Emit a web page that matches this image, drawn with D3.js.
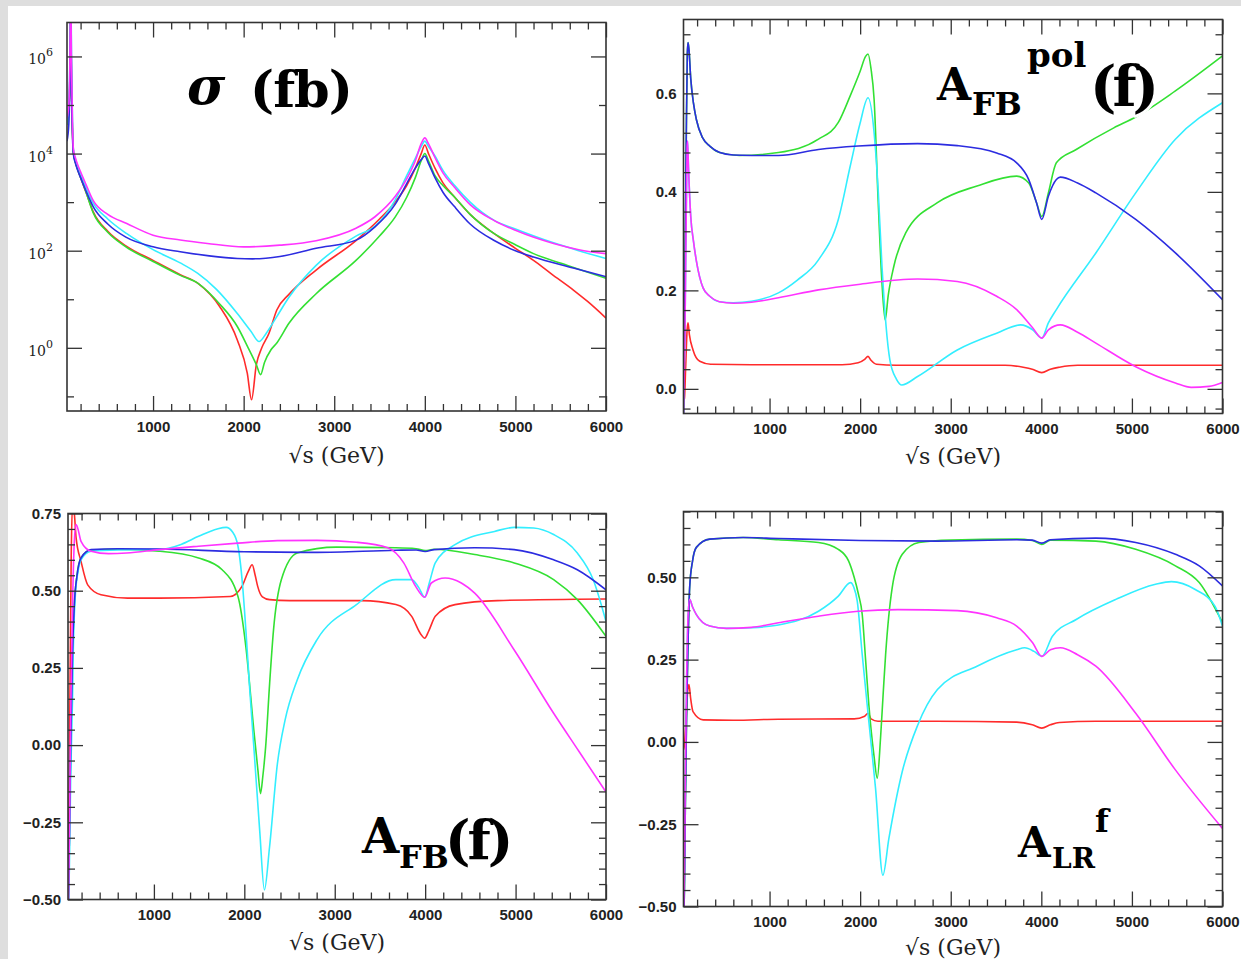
<!DOCTYPE html>
<html>
<head>
<meta charset="utf-8">
<script src="https://cdn.jsdelivr.net/npm/d3@7"></script>
<style>
html, body { margin: 0; padding: 0; background: #dedede; }
svg { display: block; }
.tick text { font-family: "Liberation Sans", Arial, sans-serif; font-weight: bold; font-size: 15px; fill: #222; }
.tick line { stroke: #333; stroke-width: 1.3; }
.frame { fill: none; stroke: #333; stroke-width: 1.6; }
.xlabel { font-family: "DejaVu Serif", serif; font-size: 22px; fill: #222; }
.ylog { font-family: "DejaVu Serif", serif; font-size: 14px; fill: #222; }
.title { font-family: "DejaVu Serif", serif; font-weight: bold; fill: #000;
         stroke: #fff; stroke-width: 6; paint-order: stroke; stroke-linejoin: round; }
.curve { fill: none; stroke-width: 1.6; }
</style>
</head>
<body>
<svg id="chart" width="1241" height="959"></svg>
<script>
/*    ========    DATA    =========    */

var X_DOMAIN = [50, 6000];          // sqrt(s) in GeV
var X_MAJOR = [1000, 2000, 3000, 4000, 5000, 6000];

// sigma (fb), log axis
var sigRed = [[50,4.0e4],[70,7.9e4],[82,4.0e5],[88,3.2e6],[91,1.6e7],[94,4.0e6],[100,2.5e5],[110,3.2e4],[120,1.1e4],[140,7.0e3],[160,5.2e3],[200,3.2e3],[260,1.6e3],[340,630],[500,250],[700,126],[1000,63],[1300,32],[1500,21],[1735,7.1],[1930,1.45],[2040,0.3],[2087,0.085],[2140,0.45],[2200,1.0],[2280,2.0],[2366,6.0],[2500,12.6],[2800,40],[3240,162],[3500,450],[3672,1.0e3],[3800,2.2e3],[3895,5.0e3],[3960,1.0e4],[4000,1.5e4],[4040,1.0e4],[4112,5.0e3],[4200,2.5e3],[4330,1.26e3],[4500,560],[4766,224],[5000,112],[5200,63],[5400,33],[5640,15.5],[5800,8.9],[6000,4.1]];
var sigGreen = [[50,4.0e4],[70,7.9e4],[82,4.0e5],[88,3.2e6],[91,1.6e7],[94,4.0e6],[100,2.5e5],[110,3.2e4],[120,1.1e4],[140,7.0e3],[160,5.2e3],[200,3.2e3],[260,1.6e3],[340,600],[500,240],[700,120],[1000,60],[1300,31],[1500,21],[1735,8.0],[1930,2.75],[2050,1.0],[2140,0.45],[2187,0.28],[2230,0.5],[2300,0.9],[2366,1.26],[2500,3.2],[2800,13],[3240,63],[3500,200],[3672,490],[3800,1.26e3],[3895,3.2e3],[3960,7.1e3],[4000,1.0e4],[4040,7.1e3],[4112,3.5e3],[4200,2.2e3],[4330,1.26e3],[4500,560],[4766,224],[5000,132],[5200,87],[5600,48],[6000,27]];
var sigCyan = [[50,4.0e4],[70,1.0e5],[82,1.0e6],[88,1.6e7],[91,6.3e7],[94,1.6e7],[100,1.0e6],[110,6.3e4],[120,1.26e4],[140,8.0e3],[160,6.0e3],[200,3.8e3],[260,2.0e3],[340,950],[500,450],[710,224],[1000,105],[1300,56],[1494,34],[1700,16],[1930,5.1],[2080,2.2],[2170,1.35],[2250,2.0],[2366,4.4],[2500,11],[2800,50],[3240,200],[3450,320],[3672,1.1e3],[3800,3.5e3],[3895,8.0e3],[3960,1.4e4],[4000,1.8e4],[4040,1.4e4],[4112,8.9e3],[4200,4.5e3],[4330,2.2e3],[4500,1.0e3],[4766,420],[5000,280],[5421,145],[5700,100],[6000,69]];
var sigBlue = [[50,1.8e4],[70,4.0e4],[82,3.2e5],[88,2.5e6],[91,1.0e7],[94,3.2e6],[100,2.0e5],[110,2.5e4],[120,1.0e4],[140,6.6e3],[160,5.0e3],[200,3.2e3],[260,1.7e3],[340,800],[500,355],[700,190],[1000,120],[1300,95],[1600,79],[1930,69],[2100,68],[2400,76],[2800,112],[3240,165],[3450,310],[3672,900],[3800,2.4e3],[3895,5.0e3],[3960,7.5e3],[4000,8.9e3],[4040,6.3e3],[4112,3.2e3],[4200,1.6e3],[4330,800],[4500,355],[4766,162],[5000,100],[5200,74],[5640,44],[6000,29]];
var sigMagenta = [[50,5.4e4],[70,1.0e5],[82,8.0e5],[88,1.0e7],[91,4.0e7],[94,1.0e7],[100,6.3e5],[110,5.0e4],[120,1.26e4],[140,8.5e3],[160,6.5e3],[200,4.2e3],[260,2.3e3],[340,1.07e3],[500,560],[710,363],[1000,209],[1300,166],[1600,141],[2000,120],[2400,130],[2800,160],[3240,290],[3450,500],[3672,1.3e3],[3800,3.0e3],[3895,7.1e3],[3960,1.6e4],[4000,2.1e4],[4040,1.6e4],[4112,8.3e3],[4200,4.0e3],[4330,2.0e3],[4500,890],[4766,417],[5000,263],[5421,141],[5700,105],[6000,87]];

// A_FB^pol(f)
var polRed = [[50,-0.022],[60,-0.02],[75,0.05],[90,0.12],[100,0.134],[115,0.11],[155,0.079],[229,0.056],[350,0.05],[800,0.049],[1800,0.049],[1978,0.053],[2050,0.06],[2087,0.066],[2120,0.058],[2180,0.05],[2400,0.048],[3600,0.048],[3800,0.044],[3900,0.04],[4005,0.033],[4100,0.04],[4200,0.044],[4400,0.048],[6000,0.048]];
var polGreen = [[50,-0.05],[65,0.2],[80,0.5],[92,0.68],[100,0.703],[110,0.69],[130,0.63],[160,0.58],[192,0.547],[260,0.51],[340,0.493],[450,0.48],[665,0.474],[1098,0.48],[1540,0.507],[1759,0.541],[1890,0.595],[2000,0.645],[2060,0.675],[2087,0.68],[2120,0.65],[2154,0.588],[2198,0.385],[2241,0.215],[2276,0.14],[2310,0.19],[2372,0.249],[2503,0.317],[2853,0.378],[3290,0.412],[3728,0.432],[3861,0.418],[3947,0.378],[4005,0.35],[4078,0.398],[4166,0.459],[4385,0.486],[4800,0.53],[5042,0.552],[5480,0.605],[6000,0.676]];
var polCyan = [[50,-0.05],[65,0.1],[80,0.35],[90,0.49],[95,0.503],[105,0.45],[130,0.35],[160,0.3],[192,0.26],[266,0.205],[340,0.188],[446,0.177],[600,0.175],[800,0.178],[1098,0.195],[1300,0.22],[1540,0.262],[1759,0.344],[1890,0.452],[2000,0.54],[2087,0.591],[2154,0.52],[2200,0.4],[2241,0.249],[2328,0.059],[2400,0.02],[2460,0.008],[2634,0.025],[3072,0.079],[3507,0.113],[3772,0.13],[3904,0.12],[4005,0.103],[4078,0.134],[4166,0.161],[4602,0.276],[5042,0.398],[5480,0.507],[6000,0.581]];
var polBlue = [[50,-0.05],[65,0.2],[80,0.5],[92,0.68],[100,0.703],[110,0.69],[130,0.63],[160,0.58],[192,0.547],[260,0.51],[340,0.493],[450,0.48],[600,0.475],[800,0.474],[1098,0.474],[1540,0.486],[1978,0.493],[2634,0.498],[3072,0.494],[3507,0.479],[3728,0.459],[3861,0.425],[3947,0.378],[4005,0.344],[4078,0.391],[4166,0.425],[4210,0.43],[4400,0.418],[4602,0.398],[5042,0.344],[5480,0.276],[6000,0.181]];
var polMagenta = [[50,-0.05],[65,0.1],[80,0.35],[90,0.49],[95,0.503],[105,0.45],[130,0.35],[160,0.3],[192,0.26],[266,0.205],[340,0.188],[446,0.177],[600,0.174],[800,0.176],[1098,0.185],[1540,0.201],[1978,0.212],[2634,0.223],[3072,0.218],[3507,0.188],[3728,0.161],[3904,0.124],[4005,0.103],[4078,0.12],[4210,0.13],[4400,0.115],[4602,0.093],[5042,0.045],[5480,0.012],[5655,0.003],[5850,0.005],[6000,0.013]];

// A_FB(f)
var afbRed = [[50,-0.22],[58,-0.33],[70,0.1],[85,0.6],[100,0.78],[117,0.76],[140,0.67],[194,0.595],[268,0.519],[415,0.487],[710,0.476],[1058,0.476],[1843,0.481],[1974,0.514],[2040,0.56],[2087,0.584],[2120,0.55],[2148,0.514],[2200,0.48],[2279,0.471],[2500,0.468],[3300,0.468],[3676,0.455],[3851,0.417],[3950,0.36],[3995,0.346],[4040,0.37],[4112,0.417],[4330,0.455],[4800,0.468],[6000,0.473]];
var afbGreen = [[50,-0.6],[65,-0.3],[80,0.0],[100,0.3],[120,0.455],[150,0.55],[194,0.606],[305,0.632],[600,0.634],[1058,0.628],[1494,0.606],[1755,0.568],[1930,0.481],[2017,0.319],[2105,0.049],[2150,-0.08],[2179,-0.157],[2205,-0.1],[2236,-0.005],[2280,0.2],[2323,0.373],[2410,0.536],[2585,0.622],[3020,0.641],[3676,0.639],[3900,0.636],[4000,0.63],[4100,0.634],[4548,0.617],[4985,0.59],[5421,0.536],[5683,0.471],[6000,0.352]];
var afbCyan = [[50,-0.6],[65,-0.4],[80,-0.1],[100,0.15],[108,0.3],[130,0.48],[160,0.56],[194,0.6],[305,0.628],[600,0.632],[1058,0.633],[1300,0.65],[1494,0.676],[1700,0.7],[1799,0.705],[1870,0.69],[1930,0.644],[1980,0.52],[2017,0.373],[2060,0.18],[2105,-0.005],[2170,-0.276],[2222,-0.469],[2279,-0.33],[2366,-0.06],[2450,0.08],[2585,0.211],[2803,0.341],[3240,0.455],[3676,0.536],[3851,0.536],[3930,0.51],[3995,0.479],[4050,0.53],[4112,0.59],[4330,0.649],[4767,0.692],[4985,0.705],[5200,0.703],[5421,0.682],[5683,0.622],[5858,0.536],[6000,0.4]];
var afbBlue = [[50,-0.6],[65,-0.3],[80,0.0],[100,0.3],[120,0.455],[150,0.55],[194,0.606],[305,0.633],[600,0.636],[1058,0.635],[2000,0.626],[2803,0.624],[3676,0.631],[3900,0.632],[4000,0.627],[4100,0.633],[4548,0.639],[4985,0.633],[5421,0.60],[5683,0.568],[6000,0.503]];
var afbMagenta = [[50,-0.6],[65,-0.3],[80,0.1],[100,0.45],[120,0.66],[139,0.714],[160,0.70],[194,0.66],[305,0.628],[500,0.62],[700,0.622],[1058,0.633],[1494,0.644],[1930,0.654],[2366,0.662],[2803,0.663],[3240,0.657],[3588,0.639],[3763,0.59],[3895,0.514],[3995,0.479],[4068,0.525],[4221,0.541],[4400,0.525],[4548,0.492],[4985,0.308],[5421,0.103],[5700,-0.02],[6000,-0.152]];

// A_LR^f
var alrRed = [[50,-0.024],[60,-0.01],[75,0.05],[95,0.15],[110,0.174],[130,0.13],[155,0.092],[266,0.067],[600,0.066],[1098,0.069],[1934,0.07],[2050,0.078],[2087,0.087],[2120,0.07],[2197,0.063],[2849,0.063],[3728,0.06],[3900,0.052],[4005,0.042],[4100,0.052],[4200,0.059],[4600,0.063],[6000,0.063]];
var alrGreen = [[50,-0.55],[60,-0.45],[70,-0.2],[85,0.1],[100,0.3],[118,0.469],[150,0.55],[192,0.591],[340,0.616],[708,0.621],[1098,0.614],[1540,0.606],[1759,0.585],[1872,0.55],[1934,0.50],[1980,0.45],[2023,0.387],[2060,0.25],[2096,0.113],[2152,-0.04],[2189,-0.11],[2225,0.011],[2255,0.15],[2281,0.265],[2354,0.469],[2465,0.57],[2649,0.606],[3000,0.613],[3728,0.616],[3900,0.612],[4005,0.6],[4100,0.613],[4602,0.61],[5042,0.585],[5480,0.535],[5743,0.484],[6000,0.362]];
var alrCyan = [[50,-0.55],[60,-0.4],[70,-0.1],[85,0.2],[100,0.38],[118,0.433],[150,0.41],[192,0.387],[340,0.352],[524,0.345],[800,0.347],[1098,0.355],[1540,0.397],[1759,0.443],[1894,0.484],[1930,0.47],[1968,0.428],[2023,0.265],[2096,0.062],[2170,-0.141],[2251,-0.405],[2317,-0.294],[2465,-0.09],[2634,0.05],[2853,0.159],[3290,0.23],[3728,0.28],[3816,0.286],[3920,0.275],[4005,0.26],[4123,0.321],[4385,0.372],[4823,0.433],[5261,0.479],[5436,0.487],[5699,0.463],[5918,0.412],[6000,0.352]];
var alrBlue = [[50,-0.55],[60,-0.45],[70,-0.2],[85,0.1],[100,0.3],[118,0.469],[150,0.55],[192,0.591],[340,0.616],[708,0.621],[1098,0.618],[2000,0.612],[2849,0.61],[3728,0.614],[3900,0.613],[4005,0.604],[4100,0.614],[4602,0.619],[5042,0.606],[5480,0.57],[5743,0.535],[6000,0.474]];
var alrMagenta = [[50,-0.55],[60,-0.4],[70,-0.1],[85,0.2],[100,0.38],[118,0.433],[150,0.41],[192,0.387],[340,0.352],[524,0.345],[800,0.348],[1098,0.362],[1540,0.382],[1978,0.397],[2416,0.402],[3072,0.399],[3507,0.377],[3728,0.352],[3904,0.301],[4005,0.26],[4100,0.28],[4210,0.286],[4400,0.265],[4602,0.23],[5042,0.087],[5480,-0.085],[6000,-0.263]];

/*    ========    SETTINGS    =========    */

var svg = d3.select('#chart');
var COLORS = { red: '#ff2b2b', green: '#33e033', cyan: '#33eeff', blue: '#2c2ce0', magenta: '#ff33ff' };
var ORDER = ['red', 'green', 'cyan', 'blue', 'magenta'];
var MAJOR_LEN = 15, MINOR_LEN = 7;

var X_MINOR = d3.range(1, 30).map(function(i) { return i * 200; })
    .filter(function(v) { return v % 1000 !== 0; });

function linTicks(lo, hi, step, every) {
    // integer multiples of step between lo and hi; split into major / minor
    var out = { major: [], minor: [] };
    for (var i = Math.ceil(lo / step - 1e-9); i * step <= hi + 1e-9; i++) {
        var v = +(i * step).toFixed(4);
        if (i % every === 0) out.major.push(v); else out.minor.push(v);
    }
    return out;
}

var panels = [
    { id: 'sig', left: 67, right: 606, top: 22.5, bottom: 411,
      y: d3.scaleLog().domain([0.05, 5e6]),
      yMajor: [1, 100, 1e4, 1e6], yMinor: [0.1, 10, 1e3, 1e5], log: true,
      series: { red: sigRed, green: sigGreen, cyan: sigCyan, blue: sigBlue, magenta: sigMagenta },
      xPad: 10, xTitleY: 463 },
    { id: 'pol', left: 683.5, right: 1222.5, top: 19.5, bottom: 413.5,
      y: d3.scaleLinear().domain([-0.05, 0.75]),
      ticks: linTicks(-0.05, 0.75, 0.04, 5), fmt: d3.format('.1f'),
      series: { red: polRed, green: polGreen, cyan: polCyan, blue: polBlue, magenta: polMagenta },
      xPad: 10, xTitleY: 464 },
    { id: 'afb', left: 68, right: 606, top: 513.5, bottom: 899.5,
      y: d3.scaleLinear().domain([-0.5, 0.75]),
      ticks: linTicks(-0.5, 0.75, 0.05, 5), fmt: d3.format('.2f'),
      series: { red: afbRed, green: afbGreen, cyan: afbCyan, blue: afbBlue, magenta: afbMagenta },
      xPad: 10, xTitleY: 950 },
    { id: 'alr', left: 683.5, right: 1222.5, top: 511.5, bottom: 906.5,
      y: d3.scaleLinear().domain([-0.5, 0.7]),
      ticks: linTicks(-0.5, 0.7, 0.05, 5), fmt: d3.format('.2f'),
      series: { red: alrRed, green: alrGreen, cyan: alrCyan, blue: alrBlue, magenta: alrMagenta },
      xPad: 10, xTitleY: 955 }
];

/*    ========    FUNCTIONS    =========    */

function addAxis(g, axis, transform) {
    g.append('g')
        .attr('transform', transform)
        .call(axis)
        .call(function(s) { s.select('.domain').remove(); });
}

function drawPanel(p) {
    var g = svg.append('g').attr('id', p.id);
    var x = d3.scaleLinear().domain(X_DOMAIN).range([p.left, p.right]);
    var y = p.y.range([p.bottom, p.top]);
    var w = p.right - p.left, h = p.bottom - p.top;

    var yMajor = p.log ? p.yMajor : p.ticks.major;
    var yMinor = p.log ? p.yMinor : p.ticks.minor;

    g.append('clipPath').attr('id', 'clip-' + p.id)
        .append('rect')
        .attr('x', p.left).attr('y', p.top)
        .attr('width', w).attr('height', h);

    var line = d3.line()
        .x(function(d) { return x(d[0]); })
        .y(function(d) { return y(d[1]); })
        .curve(d3.curveMonotoneX);

    var curves = g.append('g').attr('clip-path', 'url(#clip-' + p.id + ')');
    ORDER.forEach(function(c) {
        curves.append('path')
            .datum(p.series[c])
            .attr('class', 'curve')
            .attr('stroke', COLORS[c])
            .attr('d', line);
    });

    // ticks on all four sides, pointing inward
    addAxis(g, d3.axisBottom(x).tickValues(X_MINOR).tickSize(-MINOR_LEN).tickFormat(''),
        'translate(0,' + p.bottom + ')');
    addAxis(g, d3.axisBottom(x).tickValues(X_MAJOR).tickSize(-MAJOR_LEN)
        .tickPadding(p.xPad).tickFormat(d3.format('d')),
        'translate(0,' + p.bottom + ')');
    addAxis(g, d3.axisTop(x).tickValues(X_MINOR).tickSize(-MINOR_LEN).tickFormat(''),
        'translate(0,' + p.top + ')');
    addAxis(g, d3.axisTop(x).tickValues(X_MAJOR).tickSize(-MAJOR_LEN).tickFormat(''),
        'translate(0,' + p.top + ')');

    addAxis(g, d3.axisLeft(y).tickValues(yMinor).tickSize(-MINOR_LEN).tickFormat(''),
        'translate(' + p.left + ',0)');
    addAxis(g, d3.axisLeft(y).tickValues(yMajor).tickSize(-MAJOR_LEN).tickPadding(7)
        .tickFormat(p.log ? '' : p.fmt),
        'translate(' + p.left + ',0)');
    addAxis(g, d3.axisRight(y).tickValues(yMinor).tickSize(-MINOR_LEN).tickFormat(''),
        'translate(' + p.right + ',0)');
    addAxis(g, d3.axisRight(y).tickValues(yMajor).tickSize(-MAJOR_LEN).tickFormat(''),
        'translate(' + p.right + ',0)');

    if (p.log) {
        g.append('g').selectAll('text')
            .data(yMajor).enter()
            .append('text')
            .attr('class', 'ylog')
            .attr('text-anchor', 'end')
            .attr('x', p.left - 21)
            .attr('y', function(d) { return y(d) + 8; })
            .text('10');
        g.append('g').selectAll('text')
            .data(yMajor).enter()
            .append('text')
            .attr('class', 'ylog')
            .style('font-size', '11px')
            .attr('x', p.left - 21)
            .attr('y', function(d) { return y(d); })
            .text(function(d) { return Math.round(Math.log10(d)); });
    }

    g.append('rect')
        .attr('class', 'frame')
        .attr('x', p.left).attr('y', p.top)
        .attr('width', w).attr('height', h);

    g.append('text')
        .attr('class', 'xlabel')
        .attr('text-anchor', 'middle')
        .attr('x', (p.left + p.right) / 2)
        .attr('y', p.xTitleY)
        .text('\u221As (GeV)');
}

function title(parts) {
    var t = svg.append('text').attr('class', 'title');
    parts.forEach(function(d) {
        t.append('tspan')
            .attr('x', d[1]).attr('y', d[2])
            .style('font-size', d[3] + 'px')
            .style('font-style', d[4] || 'normal')
            .style('letter-spacing', (d[5] || 0) + 'px')
            .text(d[0]);
    });
}

/*    ========    RUN    =========    */

svg.append('rect')
    .attr('x', 8).attr('y', 6)
    .attr('width', 1241 - 8).attr('height', 959 - 6)
    .attr('fill', '#fff');

panels.forEach(drawPanel);

title([['\u03C3', 187, 104, 52, 'italic'], ['(fb)', 250, 107, 51, 'normal', -1]]);
title([['A', 937, 100, 44], ['FB', 972, 115, 32], ['pol', 1027, 67, 34], ['(f)', 1090, 106, 56, 'normal', -4]]);
title([['A', 362, 853, 48], ['FB', 399, 868, 32], ['(f)', 445, 859, 54, 'normal', -3]]);
title([['A', 1018, 857, 42], ['LR', 1052, 868, 28], ['f', 1095, 832, 32]]);
</script>
</body>
</html>
